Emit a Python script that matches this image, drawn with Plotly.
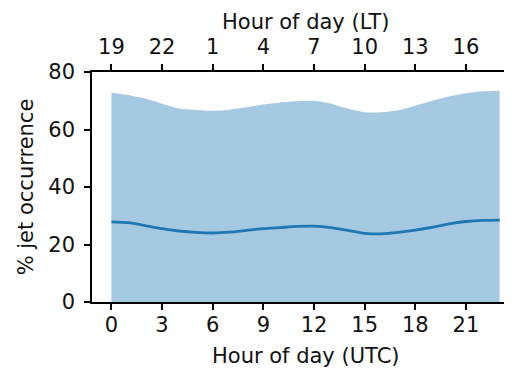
import plotly.graph_objects as go

hours_utc = list(range(24))
upper = [72.9, 72.0, 70.8, 69.0, 67.3, 66.8, 66.5, 66.9, 67.7, 68.7, 69.4, 69.8,
         70.0, 69.0, 67.3, 66.0, 66.0, 66.7, 68.3, 70.0, 71.5, 72.6, 73.3, 73.5]
mean_occ = [27.9, 27.6, 26.6, 25.5, 24.7, 24.2, 24.0, 24.3, 24.9, 25.5, 25.9, 26.3,
            26.4, 25.9, 24.9, 23.9, 23.7, 24.2, 25.0, 26.0, 27.2, 28.0, 28.4, 28.5]
bottom_ticks = [0, 3, 6, 9, 12, 15, 18, 21]
top_tick_labels = ["19", "22", "1", "4", "7", "10", "13", "16"]
y_ticks = [0, 20, 40, 60, 80]

FONT = "DejaVu Sans"
FS = 21
TXT = "#111"

fig = go.Figure()
fig.add_trace(go.Scatter(x=hours_utc, y=upper, mode="lines",
                         line=dict(width=0, shape="spline", smoothing=0.6),
                         fill="tozeroy", fillcolor="rgba(31,119,180,0.4)",
                         showlegend=False, hoverinfo="skip"))
fig.add_trace(go.Scatter(x=hours_utc, y=mean_occ, mode="lines",
                         line=dict(color="#1f77b4", width=2.8, shape="spline", smoothing=0.6),
                         showlegend=False))
fig.add_trace(go.Scatter(x=hours_utc, y=mean_occ, mode="lines", xaxis="x2",
                         line=dict(width=0), opacity=0, showlegend=False, hoverinfo="skip"))

xr = [-1.15, 23.73]
common = dict(showgrid=False, zeroline=False, showline=True, linecolor="black", linewidth=1.5,
              ticks="outside", ticklen=6, tickwidth=1.5, tickcolor="black", automargin=False,
              tickfont=dict(family=FONT, size=FS, color=TXT))

# page has an 8px body margin: figure sized 504x360 so plot area sits at x 92-512, y 72-302
fig.update_layout(
    width=504, height=360,
    margin=dict(l=84, r=0, t=64, b=66),
    plot_bgcolor="white", paper_bgcolor="white",
    xaxis=dict(range=xr, tickvals=bottom_ticks, ticktext=[str(t) for t in bottom_ticks],
               ticklabelstandoff=-3, **common),
    xaxis2=dict(range=xr, overlaying="x", side="top", anchor="y", tickvals=bottom_ticks,
                ticktext=top_tick_labels, ticklabelstandoff=2, **common),
    yaxis=dict(range=[0, 80], tickvals=y_ticks,
               title=dict(text="% jet occurrence", font=dict(family=FONT, size=FS, color=TXT), standoff=9),
               ticklabelstandoff=5, **common),
    annotations=[
        dict(text="Hour of day (UTC)", xref="x", yref="paper", x=11.5, y=-0.233,
             xanchor="center", yanchor="middle", showarrow=False,
             font=dict(family=FONT, size=FS, color=TXT)),
        dict(text="Hour of day (LT)", xref="x", yref="paper", x=11.5, y=1.2165,
             xanchor="center", yanchor="middle", showarrow=False,
             font=dict(family=FONT, size=FS, color=TXT)),
    ],
)

fig.write_html("out.html")
